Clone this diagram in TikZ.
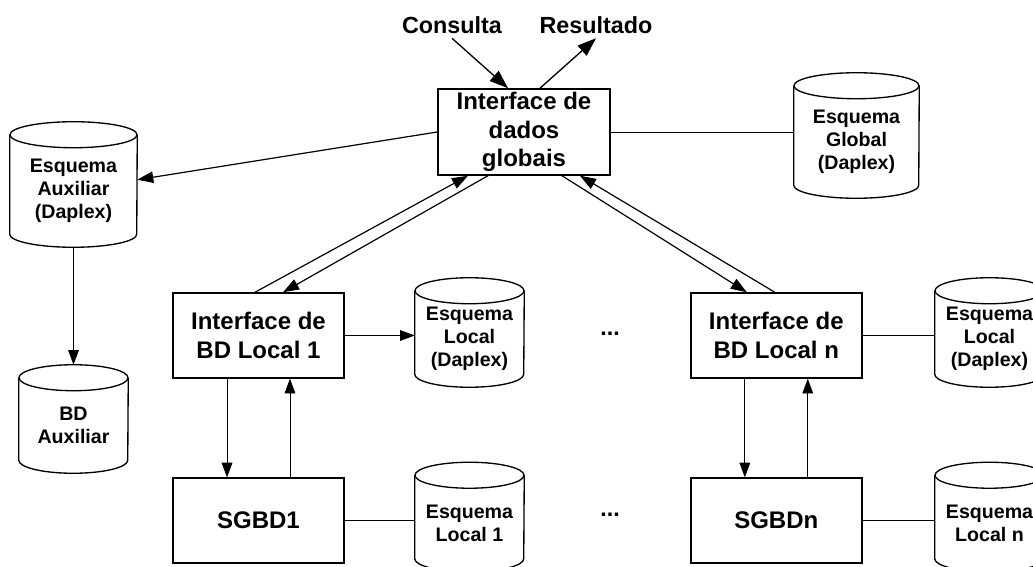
\documentclass[tikz,border=0pt]{standalone}
\usepackage{fontspec}
\setmainfont{Liberation Sans}
\usetikzlibrary{positioning,arrows.meta}

\newcommand{\raio}{9.75pt}
% cilindro: nome, posicao, largura, altura, texto
\newcommand{\cilindro}[5]{%
  \node[cil, minimum width=#3, minimum height=#4] (#1) at #2 {#5};
  \draw[borda] ([yshift=\raio]#1.north west) -- (#1.south west)
    arc[start angle=180, end angle=360, x radius=#3/2, y radius=\raio]
    -- ([yshift=\raio]#1.north east);
  \draw[borda] ([yshift=\raio]#1.north) ellipse[x radius=#3/2, y radius=\raio];
  \coordinate (#1t) at ([yshift=2*\raio]#1.north);
  \coordinate (#1b) at ([yshift=-\raio]#1.south);
}

\tikzset{
  caixa/.style={draw, line width=1.1pt, minimum width=128.25pt, minimum height=63.75pt,
    align=center, inner sep=0pt, font=\fontsize{18}{21.4}\selectfont\bfseries},
  cil/.style={inner sep=0pt, align=center, font=\fontsize{14.7}{17.3}\selectfont\bfseries},
  borda/.style={line width=1pt},
  liga/.style={line width=0.6pt},
  seta/.style={liga, -{Triangle[length=11pt,width=8pt]}},
  setad/.style={line width=0.9pt, -{Triangle[length=12pt,width=8.5pt]}},
  setag/.style={line width=1pt, -{Triangle[length=14pt,width=10pt]}},
  rotulo/.style={font=\fontsize{17.5}{21}\selectfont\bfseries},
}

\begin{document}
\begin{tikzpicture}[x=0.75pt, y=-0.75pt]
	\useasboundingbox (0,0) rectangle (1033,567);
	\node [caixa, minimum width=129pt, minimum height=64.5pt] (G) at (524,132) {Interface de\\dados\\globais};
	\node [caixa] (L1) at (258.5,335.5) {Interface de\\BD Local 1};
	\node [caixa, below=74pt of L1] (S1) {SGBD1};
	\node [caixa, right=259pt of L1] (Ln) {Interface de\\BD Local n};
	\node [caixa, below=74pt of Ln] (Sn) {SGBDn};
	\node [rotulo] (C) at (452,25) {Consulta};
	\node [rotulo] (R) at (596,25) {Resultado};
	\node [rotulo] (P1) at (610,334) {...};
	\node [rotulo] (P2) at (610,515) {...};
	\cilindro{EA}{(73.5,191)}{95.25pt}{64.5pt}{Esquema\\Auxiliar\\(Daplex)}
	\cilindro{EG}{(856.5,142)}{93.75pt}{64.5pt}{Esquema\\Global\\(Daplex)}
	\cilindro{BA}{(73.5,425.5)}{81.75pt}{51.75pt}{BD\\Auxiliar}
	\cilindro{EL1}{(469.5,339)}{81.75pt}{52.5pt}{Esquema\\Local\\(Daplex)}
	\cilindro{ELn}{(989.5,339)}{81.75pt}{52.5pt}{Esquema\\Local\\(Daplex)}
	\cilindro{E1}{(469.5,523.5)}{81.75pt}{52.5pt}{Esquema\\Local 1}
	\cilindro{En}{(989.5,523.5)}{81.75pt}{52.5pt}{Esquema\\Local n}
	\draw [setag] (C.south) to (G.110);
	\draw [setag] (G.70) to (R.south);
	\draw [setad] (G.west) to (EA.10);
	\draw [liga] (G.east) to (G.east -| EG.west);
	\draw [seta] (EAb) to (BAt);
	\draw [seta] (L1.east) to (L1.east -| EL1.west);
	\draw [liga] (S1.east) to (S1.east -| E1.west);
	\draw [liga] (Ln.east) to (Ln.east -| ELn.west);
	\draw [liga] (Sn.east) to (Sn.east -| En.west);
	\draw [seta] ([xshift=-23.6pt]L1.south) to ([xshift=-23.6pt]S1.north);
	\draw [seta] ([xshift=23.6pt]S1.north) to ([xshift=23.6pt]L1.south);
	\draw [seta] ([xshift=-23.6pt]Ln.south) to ([xshift=-23.6pt]Sn.north);
	\draw [seta] ([xshift=23.6pt]Sn.north) to ([xshift=23.6pt]Ln.south);
	\draw [setad] ([xshift=-2.6pt]L1.north) to ([xshift=-42pt]G.south);
	\draw [setad] ([xshift=-27pt]G.south) to ([xshift=18.4pt]L1.north);
	\draw [setad] ([xshift=28.5pt]G.south) to ([xshift=-22.1pt]Ln.north);
	\draw [setad] ([xshift=-1.1pt]Ln.north) to ([xshift=42pt]G.south);
\end{tikzpicture}
\end{document}
